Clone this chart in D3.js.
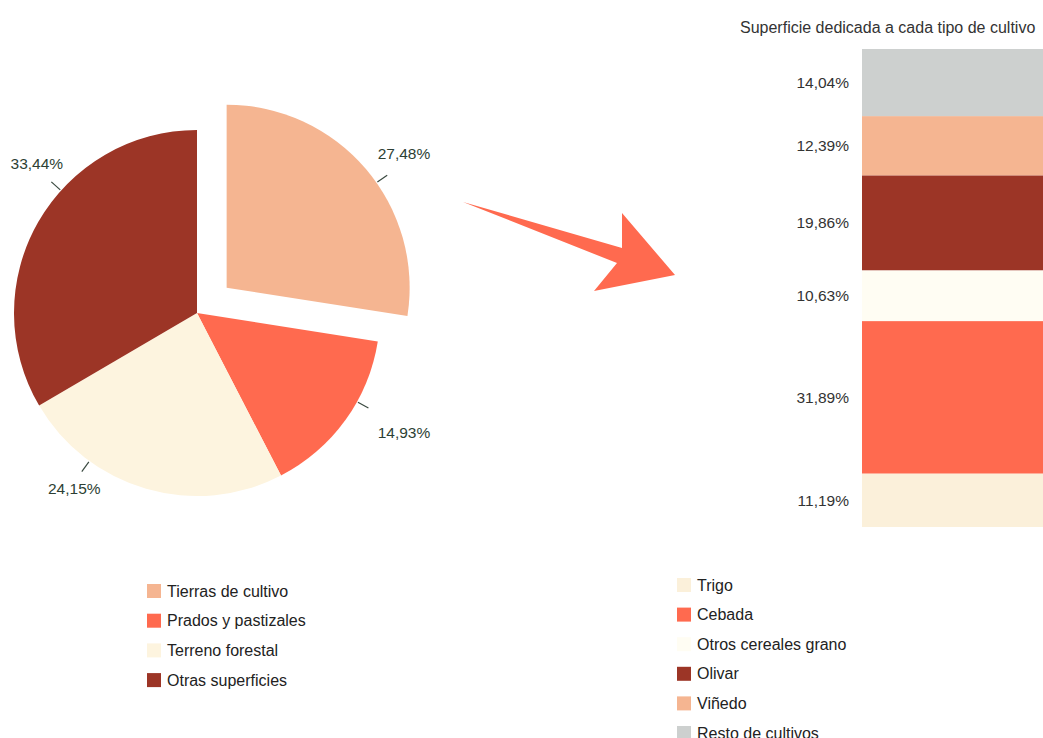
<!DOCTYPE html>
<html>
<head>
<meta charset="utf-8">
<script src="https://cdn.jsdelivr.net/npm/d3@7"></script>
<style>
  body { margin: 0; background: #fff; }
  text { font-family: 'Liberation Sans', Arial, sans-serif; }
</style>
</head>
<body>
<script>
// land use (pie)
const landNames = ['Tierras de cultivo', 'Prados y pastizales', 'Terreno forestal', 'Otras superficies'];
const landValues = [27.48, 14.93, 24.15, 33.44];
const landColors = ['#f5b591', '#ff6a4f', '#fdf4df', '#9c3526'];

// crops (stacked bar, bottom to top)
const cropNames = ['Trigo', 'Cebada', 'Otros cereales grano', 'Olivar', 'Viñedo', 'Resto de cultivos'];
const cropValues = [11.19, 31.89, 10.63, 19.86, 12.39, 14.04];
const cropColors = ['#fbf0da', '#ff6a4f', '#fffdf3', '#9c3526', '#f5b591', '#cdd0cf'];

const fmt = v => d3.format('.2f')(v).replace('.', ',') + '%';

const width = 1043;
const height = 738;

const svg = d3.select('body')
  .append('svg')
  .attr('width', width)
  .attr('height', height);

// ---- pie ----
const cx = 197, cy = 313, radius = 183;
const explode = 39;

const pie = d3.pie().sort(null).value(d => d);
const arc = d3.arc().innerRadius(0).outerRadius(radius);
const arcs = pie(landValues);

// label placement (best-fit style, degrees clockwise from top)
const lineAngle = [55, 119, 216, 312];
const textAngle = [53, 120, 215, 313];
const textR = [222, 239, 214, 219];
const rad = a => a * Math.PI / 180;

const pieG = svg.append('g').attr('transform', `translate(${cx},${cy})`);

const shift = (d, i) => {
  if (i !== 0) return null;
  const a = (d.startAngle + d.endAngle) / 2;
  return `translate(${Math.sin(a) * explode},${-Math.cos(a) * explode})`;
};

pieG.selectAll('path')
  .data(arcs)
  .enter().append('path')
    .attr('d', arc)
    .attr('transform', shift)
    .style('fill', (d, i) => landColors[i]);

const lab = pieG.selectAll('g.lab')
  .data(arcs)
  .enter().append('g')
    .attr('class', 'lab')
    .attr('transform', shift);

lab.append('line')
  .attr('x1', (d, i) => Math.sin(rad(lineAngle[i])) * (radius + 1))
  .attr('y1', (d, i) => -Math.cos(rad(lineAngle[i])) * (radius + 1))
  .attr('x2', (d, i) => Math.sin(rad(lineAngle[i])) * (radius + 13))
  .attr('y2', (d, i) => -Math.cos(rad(lineAngle[i])) * (radius + 13))
  .style('stroke', '#3a4a40')
  .style('stroke-width', 1.2);

lab.append('text')
  .attr('x', (d, i) => Math.sin(rad(textAngle[i])) * textR[i])
  .attr('y', (d, i) => -Math.cos(rad(textAngle[i])) * textR[i])
  .attr('dy', '0.35em')
  .attr('text-anchor', 'middle')
  .style('font-size', '15.5px')
  .style('fill', '#2d3f34')
  .text(d => fmt(d.data));

// ---- arrow ----
svg.append('path')
  .attr('d', 'M463,202 L622,248 L622,213 L675,275 L594,291 L617,263 Z')
  .style('fill', '#ff6a4f');

// ---- stacked bar ----
const y = d3.scaleLinear()
  .domain([0, d3.sum(cropValues)])
  .range([527, 49]);

const stacked = [];
let acc = 0;
cropValues.forEach((v, i) => {
  stacked.push({ name: cropNames[i], v: v, y0: acc, y1: acc + v, color: cropColors[i] });
  acc += v;
});

const barX = 862, barW = 200;

svg.append('g')
  .selectAll('rect')
  .data(stacked)
  .enter().append('rect')
    .attr('x', barX)
    .attr('y', d => y(d.y1))
    .attr('width', barW)
    .attr('height', d => y(d.y0) - y(d.y1))
    .style('fill', d => d.color);

svg.append('g')
  .selectAll('text')
  .data(stacked)
  .enter().append('text')
    .attr('x', 849)
    .attr('y', d => y((d.y0 + d.y1) / 2))
    .attr('dy', '0.35em')
    .attr('text-anchor', 'end')
    .style('font-size', '15.5px')
    .style('fill', '#333')
    .text(d => fmt(d.v));

svg.append('text')
  .attr('x', 740)
  .attr('y', 33)
  .style('font-size', '16px')
  .style('fill', '#333')
  .text('Superficie dedicada a cada tipo de cultivo');

// ---- legends ----
function legend(names, colors, x, y0, step) {
  const g = svg.append('g');
  const row = g.selectAll('g')
    .data(names)
    .enter().append('g')
      .attr('transform', (d, i) => `translate(${x},${y0 + i * step})`);
  row.append('rect')
    .attr('x', 0).attr('y', -7)
    .attr('width', 14).attr('height', 14)
    .style('fill', (d, i) => colors[i]);
  row.append('text')
    .attr('x', 20)
    .attr('dy', '0.35em')
    .style('font-size', '16px')
    .style('fill', '#222')
    .text(d => d);
}

legend(landNames, landColors, 147, 591, 29.7);
legend(cropNames, cropColors, 677, 585, 29.6);
</script>
</body>
</html>
